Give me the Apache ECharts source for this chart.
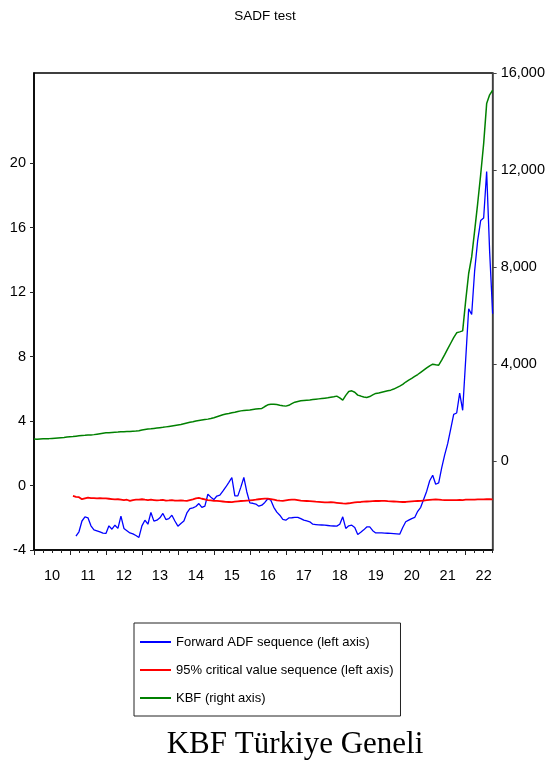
<!DOCTYPE html>
<html>
<head>
<meta charset="utf-8">
<script src="https://cdn.jsdelivr.net/npm/echarts@6/dist/echarts.min.js"></script>
<style>
  html, body { margin: 0; padding: 0; background: #fff; }
  #chart { width: 548px; height: 765px; }
</style>
</head>
<body>
<div id="chart"></div>
<script>
// monthly sample 2010M01 .. 2022M10
const firstYear = 2010
const lastYear = 2022
const lastMonth = 10

const leftTicks = [-4, 0, 4, 8, 12, 16, 20]
const rightTicks = [0, 4000, 8000, 12000, 16000]

// Forward ADF sequence, starts 2011M03 (index 14)
const adfStart = 14
const adfValues = [
  -3.14, -2.87, -2.20, -1.95, -2.00, -2.50, -2.75, -2.81, -2.88, -2.95,
  -2.97, -2.50, -2.71, -2.46, -2.66, -1.90, -2.66, -2.80, -2.94, -3.00, -3.10, -3.22,
  -2.50, -2.15, -2.40, -1.67, -2.21, -2.15, -2.00, -1.73, -2.11, -2.05, -1.84, -2.20,
  -2.52, -2.35, -2.20, -1.70, -1.43, -1.38, -1.30, -1.12, -1.36, -1.28, -0.54, -0.72,
  -0.87, -0.65, -0.60, -0.35, -0.09, 0.20, 0.50, -0.64, -0.64, -0.10, 0.50, -0.40,
  -1.08, -1.10, -1.15, -1.28, -1.22, -1.05, -0.82, -0.91, -1.35, -1.65, -1.84, -2.10,
  -2.15, -2.01, -2.00, -1.98, -1.97, -2.05, -2.15, -2.20, -2.25, -2.40, -2.42, -2.44,
  -2.45, -2.46, -2.48, -2.50, -2.51, -2.52, -2.40, -1.94, -2.66, -2.50, -2.46, -2.60,
  -3.04, -2.90, -2.75, -2.57, -2.57, -2.80, -2.94, -2.94, -2.94, -2.95, -2.96, -2.97,
  -2.98, -3.00, -3.02, -2.60, -2.25, -2.15, -2.05, -1.98, -1.60, -1.35, -0.85, -0.35,
  0.30, 0.64, 0.08, 0.16, 1.10, 1.90, 2.60, 3.50, 4.42, 4.50, 5.74, 4.67,
  7.80, 10.97, 10.61, 13.34, 15.20, 16.44, 16.60, 19.49, 14.50, 10.66
]

// 95% critical value sequence, starts 2011M02 (index 13)
const cvStart = 13
const cvValues = [
  -0.64, -0.70, -0.72, -0.85, -0.80, -0.75, -0.78, -0.78, -0.80, -0.79, -0.80,
  -0.80, -0.82, -0.84, -0.86, -0.85, -0.88, -0.91, -0.88, -0.95, -0.90, -0.88, -0.87,
  -0.85, -0.88, -0.90, -0.88, -0.90, -0.92, -0.91, -0.89, -0.93, -0.92, -0.90, -0.93,
  -0.94, -0.92, -0.94, -0.95, -0.90, -0.86, -0.80, -0.77, -0.82, -0.86, -0.90, -0.92,
  -0.95, -0.95, -0.97, -0.99, -1.01, -1.02, -1.03, -1.00, -0.98, -0.96, -0.95, -0.93,
  -0.92, -0.90, -0.88, -0.85, -0.83, -0.81, -0.81, -0.84, -0.88, -0.92, -0.94, -0.95,
  -0.92, -0.89, -0.87, -0.87, -0.90, -0.93, -0.95, -0.96, -0.97, -0.98, -1.00, -1.01,
  -1.03, -1.05, -1.04, -1.03, -1.05, -1.07, -1.09, -1.11, -1.12, -1.10, -1.07, -1.05,
  -1.03, -1.02, -1.00, -0.99, -0.98, -0.97, -0.96, -0.96, -0.95, -0.95, -0.97, -0.98,
  -0.99, -1.00, -1.01, -1.02, -1.02, -1.00, -0.98, -0.97, -0.96, -0.95, -0.93, -0.91,
  -0.89, -0.87, -0.86, -0.87, -0.89, -0.90, -0.91, -0.91, -0.91, -0.90, -0.89, -0.90,
  -0.88, -0.88, -0.87, -0.87, -0.86, -0.86, -0.86, -0.85, -0.85, -0.86
]

// KBF (right axis), full sample
const kbfValues = [
  895, 890, 900, 905, 910, 915, 925, 935, 945, 955, 965, 980,
  990, 1000, 1015, 1030, 1045, 1050, 1060, 1065, 1080, 1100, 1120, 1140,
  1155, 1160, 1170, 1180, 1185, 1195, 1200, 1205, 1210, 1218, 1225, 1240,
  1270, 1290, 1310, 1320, 1335, 1350, 1365, 1380, 1400, 1420, 1440, 1460,
  1480, 1500, 1530, 1560, 1590, 1610, 1640, 1660, 1680, 1700, 1720, 1748,
  1780, 1820, 1860, 1900, 1930, 1950, 1979, 2000, 2030, 2060, 2080, 2090,
  2100, 2120, 2135, 2150, 2161, 2240, 2310, 2330, 2338, 2320, 2290, 2270,
  2256, 2290, 2360, 2420, 2450, 2474, 2490, 2500, 2510, 2525, 2540, 2555,
  2570, 2585, 2600, 2620, 2640, 2668, 2600, 2503, 2700, 2860, 2887, 2830,
  2709, 2670, 2630, 2614, 2650, 2720, 2779, 2800, 2830, 2860, 2890, 2915,
  2960, 3020, 3080, 3150, 3250, 3330, 3398, 3480, 3560, 3650, 3740, 3830,
  3920, 3988, 3960, 3946, 4150, 4380, 4620, 4850, 5080, 5280, 5320, 5361,
  6600, 7728, 8412, 9500, 10614, 11800, 13088, 14738, 15100, 15287
]

const months = []
for (let y = firstYear; y <= lastYear; y++) {
  const endM = y === lastYear ? lastMonth : 12
  for (let m = 1; m <= endM; m++) {
    months.push(y + 'M' + (m < 10 ? '0' + m : m))
  }
}

function padSeries(start, values) {
  const out = new Array(start).fill(null)
  return out.concat(values)
}

const adfSeq = padSeries(adfStart, adfValues)
const cvSeq = padSeries(cvStart, cvValues)

const sans = "'Liberation Sans', Arial, sans-serif"

const option = {
  animation: false,
  backgroundColor: '#fff',
  textStyle: { fontFamily: sans },
  grid: {
    left: 34, top: 73, width: 461, height: 477,
    show: true, borderColor: '#000', borderWidth: 1.5, backgroundColor: 'transparent'
  },
  legend: {
    orient: 'vertical',
    left: 134, top: 623,
    padding: [12, 7, 11, 6],
    icon: 'rect',
    itemWidth: 31, itemHeight: 2, itemGap: 14,
    borderColor: '#222', borderWidth: 1,
    textStyle: { fontFamily: sans, fontSize: 13, color: '#000', lineHeight: 14 },
    data: ['Forward ADF sequence (left axis)', '95% critical value sequence (left axis)', 'KBF (right axis)']
  },
  xAxis: [
    {
      type: 'category',
      data: months,
      boundaryGap: false,
      position: 'bottom',
      axisLine: { show: true, onZero: false, lineStyle: { color: '#000', width: 1.5 } },
      axisTick: { show: true, length: 3, lineStyle: { color: '#222' }, interval: (i) => i % 3 === 0 },
      axisLabel: {
        interval: (i) => i % 12 === 6,
        formatter: (v) => v.slice(2, 4),
        color: '#000', fontSize: 14.5, fontFamily: sans, margin: 18
      },
      splitLine: { show: false }
    },
    {
      type: 'category',
      data: months,
      boundaryGap: false,
      position: 'bottom',
      axisLine: { show: false, onZero: false },
      axisTick: { show: true, length: 5, lineStyle: { color: '#222' }, interval: (i) => i % 12 === 0 },
      axisLabel: { show: false },
      splitLine: { show: false }
    }
  ],
  yAxis: [
    {
      type: 'value',
      position: 'left',
      min: -4, max: 25.6,
      axisLine: { show: true, lineStyle: { color: '#000', width: 1.5 } },
      axisTick: { show: true, length: 4, lineStyle: { color: '#222' }, customValues: leftTicks },
      axisLabel: { color: '#000', fontSize: 14.5, fontFamily: sans, margin: 8, customValues: leftTicks },
      splitLine: { show: false }
    },
    {
      type: 'value',
      position: 'right',
      min: -3680, max: 16000,
      axisLine: { show: true, lineStyle: { color: '#555', width: 1.5 } },
      axisTick: { show: true, length: 4, lineStyle: { color: '#444' }, customValues: rightTicks },
      axisLabel: {
        color: '#000', fontSize: 14.5, fontFamily: sans, margin: 8, customValues: rightTicks,
        formatter: (v) => v.toLocaleString('en-US')
      },
      splitLine: { show: false }
    }
  ],
  series: [
    {
      name: 'Forward ADF sequence (left axis)',
      type: 'line', yAxisIndex: 0, data: adfSeq,
      symbol: 'none', connectNulls: false,
      lineStyle: { color: '#0000ff', width: 1.3 }, itemStyle: { color: '#0000ff' }
    },
    {
      name: '95% critical value sequence (left axis)',
      type: 'line', yAxisIndex: 0, data: cvSeq,
      symbol: 'none',
      lineStyle: { color: '#ff0000', width: 1.8 }, itemStyle: { color: '#ff0000' }
    },
    {
      name: 'KBF (right axis)',
      type: 'line', yAxisIndex: 1, data: kbfValues,
      symbol: 'none',
      lineStyle: { color: '#008000', width: 1.5 }, itemStyle: { color: '#008000' }
    }
  ],
  graphic: [
    {
      type: 'text', x: 265, y: 16,
      style: { text: 'SADF test', fill: '#000', font: '13.5px ' + sans, textAlign: 'center', textVerticalAlign: 'middle' }
    },
    {
      type: 'text', x: 295, y: 745,
      style: { text: 'KBF Türkiye Geneli', fill: '#000', font: "31px 'Liberation Serif', 'Times New Roman', serif", textAlign: 'center', textVerticalAlign: 'middle' }
    }
  ]
}

const chart = echarts.init(document.getElementById('chart'))
chart.setOption(option)
</script>
</body>
</html>
